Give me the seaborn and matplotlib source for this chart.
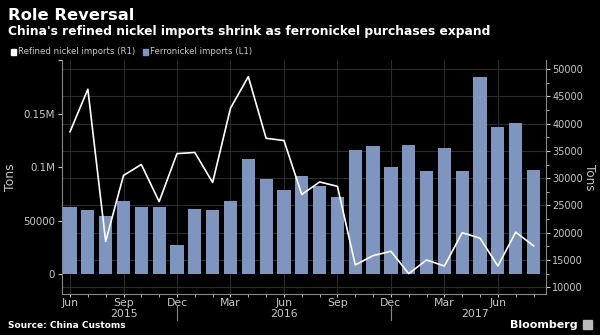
import numpy as np
import pandas as pd
import matplotlib
matplotlib.use("Agg")
import matplotlib.pyplot as plt
import matplotlib.transforms as mtransforms
from matplotlib.patches import Rectangle
import seaborn as sns

# ---- data ----
months = ["Jun", "Jul", "Aug", "Sep", "Oct", "Nov", "Dec",
          "Jan", "Feb", "Mar", "Apr", "May", "Jun", "Jul", "Aug", "Sep", "Oct", "Nov", "Dec",
          "Jan", "Feb", "Mar", "Apr", "May", "Jun", "Jul", "Aug"]
years = [2015] * 7 + [2016] * 12 + [2017] * 8
ferronickel = [63000, 59500, 54000, 68000, 63000, 63000, 27500,
               61000, 59500, 68000, 108000, 88500, 79000, 92000, 82000, 72500,
               115500, 120000, 100000, 121000, 96000, 117500, 96000, 184000,
               137500, 141000, 97500]
refined = [38500, 46300, 18400, 30500, 32500, 25700, 34500,
           34700, 29200, 42800, 48600, 37300, 36900, 27000, 29300, 28500,
           14100, 15800, 16600, 12500, 15000, 13900, 20000, 19000,
           13900, 20100, 17600]
major_labels = ["Jun", "Sep", "Dec", "Mar", "Jun", "Sep", "Dec", "Mar", "Jun"]
year_labels = ["2015", "2016", "2017"]
left_ticks = [0, 50000, 100000, 150000, 200000]
left_tick_labels = ["0", "50000", "0.1M", "0.15M", ""]
right_ticks = [10000, 15000, 20000, 25000, 30000, 35000, 40000, 45000, 50000]

df = pd.DataFrame({"month": [f"{m} {y}" for m, y in zip(months, years)],
                   "idx": np.arange(len(months)),
                   "ferronickel": ferronickel,
                   "refined": refined})

BG = "black"
BAR = "#7d95bf"
TXT = "#c8c8c8"
GRID = "#2b2b2b"

fig = plt.figure(figsize=(6.0, 3.35), dpi=100, facecolor=BG)
ax = fig.add_axes([62 / 600, 1 - 294 / 335, (546 - 62) / 600, (294 - 60) / 335])
ax.set_facecolor(BG)

sns.barplot(data=df, x="idx", y="ferronickel", color=BAR, width=0.74,
            saturation=1, ax=ax, zorder=2, order=list(df["idx"]))

L_LO, L_HI = -18500, 200000
R_LO, R_HI = 8770, 51650
ax.set_ylim(L_LO, L_HI)
ax.set_xlim(-0.45, len(months) - 0.3)

ax2 = ax.twinx()
sns.lineplot(data=df, x="idx", y="refined", color="white", lw=1.2, ax=ax2, zorder=3)
ax2.set_ylim(R_LO, R_HI)
ax2.set_xlim(ax.get_xlim())

# horizontal gridlines at right-axis ticks, drawn behind bars
for t in right_ticks:
    yl = L_LO + (t - R_LO) / (R_HI - R_LO) * (L_HI - L_LO)
    ax.axhline(yl, color=GRID, lw=0.8, zorder=0)

# x axis ticks
major_pos = list(range(0, len(months), 3))
ax.set_xticks(major_pos)
ax.set_xticklabels(major_labels)
ax.set_xticks(range(len(months)), minor=True)
ax.grid(axis="x", which="major", color=GRID, lw=0.8, zorder=0)
ax.set_axisbelow(True)

ax.set_yticks(left_ticks)
ax.set_yticklabels(left_tick_labels)
ax2.set_yticks(right_ticks)
ax2.set_yticks(np.arange(10000, 51000, 2500), minor=True)
ax2.set_yticklabels([str(t) for t in right_ticks])

for a in (ax, ax2):
    a.tick_params(colors=TXT, labelsize=7.4, length=3, width=0.8, pad=2)
    a.tick_params(which="minor", colors=TXT, length=2, width=0.6)
    for s in a.spines.values():
        s.set_visible(False)
ax.tick_params(axis="x", which="major", length=2, pad=1, labelsize=7.8)
ax2.tick_params(axis="y", labelsize=7.0, pad=1.5)
ax.spines["left"].set_visible(True)
ax.spines["bottom"].set_visible(True)
ax.spines["left"].set_color("#888888")
ax.spines["bottom"].set_color("#888888")
ax2.spines["right"].set_visible(True)
ax2.spines["right"].set_color("#888888")
ax2.tick_params(axis="x", which="both", bottom=False, labelbottom=False)

ax.set_xlabel("")
ax.set_ylabel("Tons", color=TXT, fontsize=9, labelpad=4)
ax2.set_ylabel("Tons", color=TXT, fontsize=8.6, rotation=270, labelpad=5)
ax2.yaxis.set_label_coords(1.104, 0.5)

# year labels and separators
trans = mtransforms.blended_transform_factory(ax.transData, ax.transAxes)
year_centers = [3.0, 12.0, 22.7]
for yc, yl in zip(year_centers, year_labels):
    ax.text(yc, -0.087, yl, transform=trans, ha="center", va="center",
            color=TXT, fontsize=7.8)
for sep in [6, 18]:
    ax.plot([sep, sep], [-0.045, -0.11], transform=trans, color="#888888",
            lw=0.8, clip_on=False)

# titles
fig.text(8 / 600, 1 - 15 / 335, "Role Reversal", color="white", fontsize=11.8,
         fontweight="bold", va="center", ha="left")
fig.text(8 / 600, 1 - 32 / 335,
         "China's refined nickel imports shrink as ferronickel purchases expand",
         color="white", fontsize=8.8, fontweight="bold", va="center", ha="left")

# legend
fig.patches.append(Rectangle((11 / 600, 1 - 54.5 / 335), 5 / 600, 5 / 335,
                             transform=fig.transFigure, color="white"))
fig.text(18 / 600, 1 - 52 / 335, "Refined nickel imports (R1)", color=TXT,
         fontsize=6.2, va="center", ha="left")
fig.patches.append(Rectangle((143 / 600, 1 - 54.5 / 335), 5 / 600, 5 / 335,
                             transform=fig.transFigure, color=BAR))
fig.text(150 / 600, 1 - 52 / 335, "Ferronickel imports (L1)", color=TXT,
         fontsize=6.2, va="center", ha="left")

# footer
fig.text(8 / 600, 1 - 326 / 335, "Source: China Customs", color="white",
         fontsize=6.5, fontweight="bold", va="center", ha="left")
fig.text(578 / 600, 1 - 325 / 335, "Bloomberg", color="white",
         fontsize=8, fontweight="bold", va="center", ha="right")
fig.patches.append(Rectangle((583 / 600, 1 - 329 / 335), 9 / 600, 9 / 335,
                             transform=fig.transFigure, color="#bbbbbb"))

fig.savefig("out.png", dpi=100, facecolor=BG)
